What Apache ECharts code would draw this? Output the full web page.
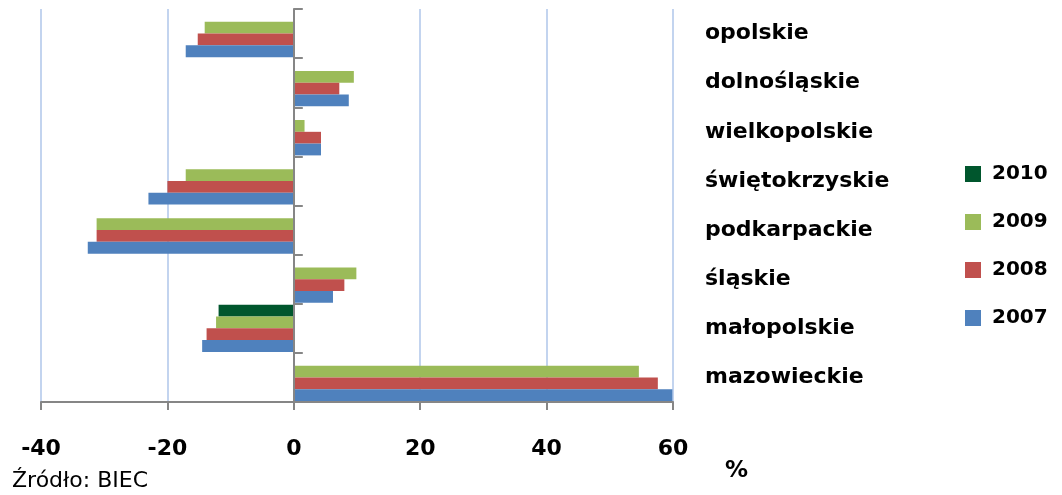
<!DOCTYPE html>
<html>
<head>
<meta charset="utf-8">
<script src="https://cdn.jsdelivr.net/npm/echarts@6/dist/echarts.min.js"></script>
<style>
  html, body { margin: 0; padding: 0; background: #fff; }
  #chart { width: 1062px; height: 495px; }
</style>
</head>
<body>
<div id="chart"></div>
<script>
    'use strict';
    // regions, bottom to top as on the chart
    var regions = ['mazowieckie', 'małopolskie', 'śląskie', 'podkarpackie',
        'świętokrzyskie', 'wielkopolskie', 'dolnośląskie', 'opolskie'];
    var years = ['2010', '2009', '2008', '2007'];
    var v2007 = [59.9, -14.5, 6.2, -32.6, -23.0, 4.3, 8.7, -17.1];
    var v2008 = [57.6, -13.8, 8.0, -31.2, -20.0, 4.3, 7.2, -15.2];
    var v2009 = [54.6, -12.3, 9.9, -31.2, -17.1, 1.7, 9.5, -14.1];
    var v2010 = [null, -11.9, null, null, null, null, null, null];
    var xTicks = { min: -40, max: 60, step: 20 };

    // same order as years: top bar of each group first
    var colors = ['#00562d', '#9bbb59', '#c0504d', '#4f81bd'];
    var font = 'DejaVu Sans';
    var gray = '#868686';

    var chart = echarts.init(document.getElementById('chart'));

    var seriesData = [v2010, v2009, v2008, v2007];
    var series = years.map(function (y, i) {
        return {
            name: y,
            type: 'bar',
            yAxisIndex: 0,
            data: seriesData[i],
            barGap: '0%',
            barCategoryGap: '4%',
            itemStyle: { color: colors[i] }
        };
    });

    chart.setOption({
        animation: false,
        color: colors,
        grid: { left: 41, right: 389, top: 9, bottom: 93, containLabel: false },
        legend: {
            orient: 'vertical',
            left: 960,
            top: 159,
            data: years,
            icon: 'rect',
            itemWidth: 16,
            itemHeight: 16,
            itemGap: 28,
            textStyle: { fontFamily: font, fontWeight: 'bold', fontSize: 20, color: '#000', padding: [0, 0, 0, 6] }
        },
        xAxis: {
            type: 'value',
            min: xTicks.min,
            max: xTicks.max,
            interval: xTicks.step,
            axisLine: { show: true, lineStyle: { color: gray, width: 2 } },
            axisTick: { show: true, length: 8, lineStyle: { color: gray, width: 2 } },
            axisLabel: { fontFamily: font, fontWeight: 'bold', fontSize: 22, color: '#000', margin: 36 },
            splitLine: { show: true, lineStyle: { color: '#c3d4ef', width: 2 } }
        },
        yAxis: [{
            type: 'category',
            data: regions,
            z: 3,
            axisLine: { show: true, onZero: true, lineStyle: { color: gray, width: 2 } },
            axisTick: { show: true, inside: true, length: 9, lineStyle: { color: gray, width: 2 } },
            axisLabel: { show: false },
            splitLine: { show: false }
        }, {
            type: 'category',
            data: regions,
            position: 'right',
            axisLine: { show: false },
            axisTick: { show: false },
            axisLabel: { fontFamily: font, fontWeight: 'bold', fontSize: 22, color: '#000', margin: 32, align: 'left' },
            splitLine: { show: false }
        }],
        graphic: [{
            type: 'text',
            left: 725,
            top: 460,
            style: { text: '%', font: 'bold 23px "DejaVu Sans"', fill: '#000' }
        }, {
            type: 'text',
            left: 12,
            top: 470,
            style: { text: 'Źródło: BIEC', font: '22px "DejaVu Sans"', fill: '#000' }
        }],
        series: series
    });
</script>
</body>
</html>
